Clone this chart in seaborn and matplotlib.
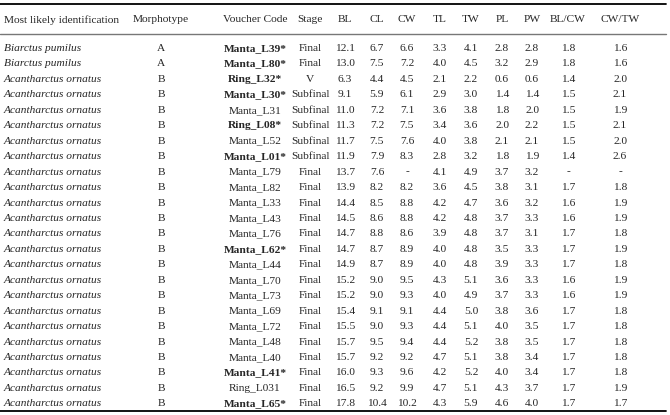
import matplotlib
matplotlib.use("Agg")
import matplotlib.pyplot as plt
import seaborn as sns

sns.set_theme(style="white")
plt.rcParams['font.family'] = ['Liberation Serif', 'DejaVu Serif']

headers = ["Most likely identification", "Morphotype", "Voucher Code", "Stage",
           "BL", "CL", "CW", "TL", "TW", "PL", "PW", "BL/CW", "CW/TW"]

species = ["Biarctus pumilus"] * 2 + ["Acantharctus ornatus"] * 22
morphotype = ["A", "A"] + ["B"] * 22
voucher = ["Manta_L39*", "Manta_L80*", "Ring_L32*", "Manta_L30*", "Manta_L31",
           "Ring_L08*", "Manta_L52", "Manta_L01*", "Manta_L79", "Manta_L82",
           "Manta_L33", "Manta_L43", "Manta_L76", "Manta_L62*", "Manta_L44",
           "Manta_L70", "Manta_L73", "Manta_L69", "Manta_L72", "Manta_L48",
           "Manta_L40", "Manta_L41*", "Ring_L031", "Manta_L65*"]
stage = ["Final", "Final", "V", "Subfinal", "Subfinal", "Subfinal", "Subfinal",
         "Subfinal"] + ["Final"] * 16

BL = [12.1, 13.0, 6.3, 9.1, 11.0, 11.3, 11.7, 11.9, 13.7, 13.9, 14.4, 14.5, 14.7,
      14.7, 14.9, 15.2, 15.2, 15.4, 15.5, 15.7, 15.7, 16.0, 16.5, 17.8]
CL = [6.7, 7.5, 4.4, 5.9, 7.2, 7.2, 7.5, 7.9, 7.6, 8.2, 8.5, 8.6, 8.8,
      8.7, 8.7, 9.0, 9.0, 9.1, 9.0, 9.5, 9.2, 9.3, 9.2, 10.4]
CW = [6.6, 7.2, 4.5, 6.1, 7.1, 7.5, 7.6, 8.3, None, 8.2, 8.8, 8.8, 8.6,
      8.9, 8.9, 9.5, 9.3, 9.1, 9.3, 9.4, 9.2, 9.6, 9.9, 10.2]
TL = [3.3, 4.0, 2.1, 2.9, 3.6, 3.4, 4.0, 2.8, 4.1, 3.6, 4.2, 4.2, 3.9,
      4.0, 4.0, 4.3, 4.0, 4.4, 4.4, 4.4, 4.7, 4.2, 4.7, 4.3]
TW = [4.1, 4.5, 2.2, 3.0, 3.8, 3.6, 3.8, 3.2, 4.9, 4.5, 4.7, 4.8, 4.8,
      4.8, 4.8, 5.1, 4.9, 5.0, 5.1, 5.2, 5.1, 5.2, 5.1, 5.9]
PL = [2.8, 3.2, 0.6, 1.4, 1.8, 2.0, 2.1, 1.8, 3.7, 3.8, 3.6, 3.7, 3.7,
      3.5, 3.9, 3.6, 3.7, 3.8, 4.0, 3.8, 3.8, 4.0, 4.3, 4.6]
PW = [2.8, 2.9, 0.6, 1.4, 2.0, 2.2, 2.1, 1.9, 3.2, 3.1, 3.2, 3.3, 3.1,
      3.3, 3.3, 3.3, 3.3, 3.6, 3.5, 3.5, 3.4, 3.4, 3.7, 4.0]
BL_CW = [1.8, 1.8, 1.4, 1.5, 1.5, 1.5, 1.5, 1.4, None, 1.7, 1.6, 1.6, 1.7,
         1.7, 1.7, 1.6, 1.6, 1.7, 1.7, 1.7, 1.7, 1.7, 1.7, 1.7]
CW_TW = [1.6, 1.6, 2.0, 2.1, 1.9, 2.1, 2.0, 2.6, None, 1.8, 1.9, 1.9, 1.8,
         1.9, 1.8, 1.9, 1.9, 1.8, 1.8, 1.8, 1.8, 1.8, 1.9, 1.7]

numeric = [BL, CL, CW, TL, TW, PL, PW, BL_CW, CW_TW]
n_rows = len(BL)

# layout in pixels
col_x = [4, 161, 255, 310, 345, 377, 407, 440, 471, 502, 532, 568, 620]
header_y = 20
row0_y = 48.5
row_h = 15.45
fs = 8.2

fig = plt.figure(figsize=(6.7, 4.15), dpi=100)
ax = fig.add_axes([0, 0, 1, 1])
ax.set_xlim(0, 670)
ax.set_ylim(415, 0)
ax.axis("off")

# rules
bottom_y = row0_y + (n_rows - 1) * row_h + 7
ax.plot([0, 666], [4.5, 4.5], color="black", lw=1.3)
ax.plot([0, 666], [34, 34], color="#777777", lw=1.0)
ax.plot([0, 666], [bottom_y, bottom_y], color="black", lw=1.3)

for j, h in enumerate(headers):
    ha = "left" if j == 0 else "center"
    ax.text(col_x[j], header_y, h, ha=ha, va="center", fontsize=fs)

def fmt(v):
    return "-" if v is None else f"{v:.1f}"

for i in range(n_rows):
    y = row0_y + i * row_h
    ax.text(col_x[0], y, species[i], ha="left", va="center", fontsize=fs, style="italic")
    ax.text(col_x[1], y, morphotype[i], ha="center", va="center", fontsize=fs)
    bold = voucher[i].endswith("*")
    ax.text(col_x[2], y, voucher[i], ha="center", va="center", fontsize=fs,
            weight="bold" if bold else "normal")
    ax.text(col_x[3], y, stage[i], ha="center", va="center", fontsize=fs)
    for k, col in enumerate(numeric):
        ax.text(col_x[4 + k], y, fmt(col[i]), ha="center", va="center", fontsize=fs)

fig.savefig("out.png", dpi=100)
